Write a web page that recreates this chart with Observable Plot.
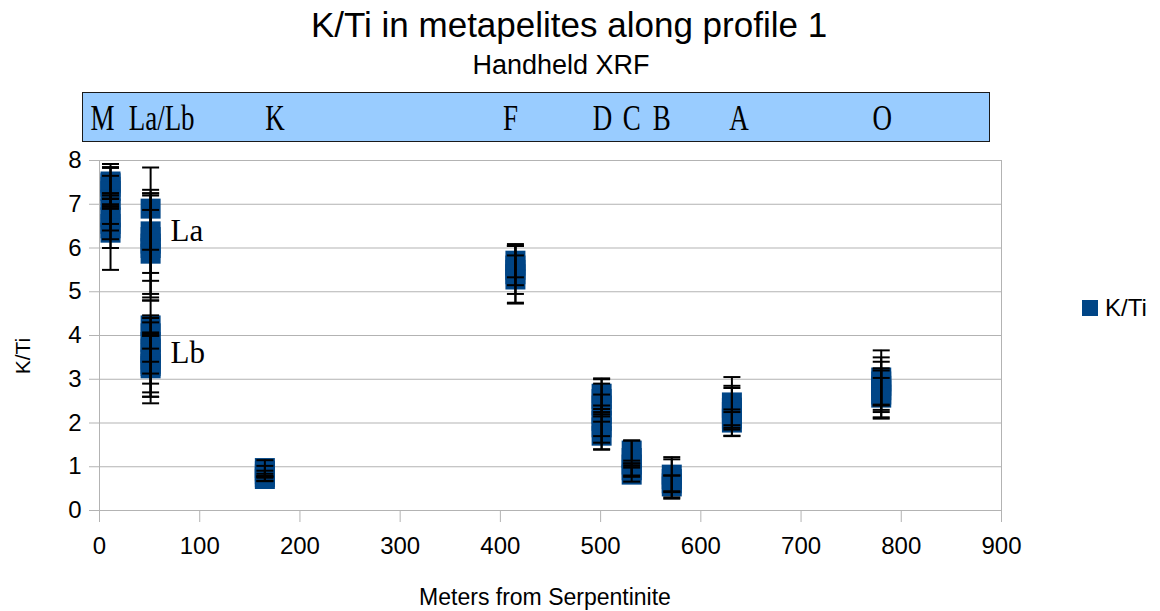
<!DOCTYPE html>
<html>
<head>
<meta charset="utf-8">
<script src="https://cdn.jsdelivr.net/npm/d3@7"></script>
<script src="https://cdn.jsdelivr.net/npm/@observablehq/plot@0.6"></script>
<style>
  html, body { margin: 0; padding: 0; background: #fff; }
  #wrap { position: relative; width: 1160px; height: 611px; font-family: "Liberation Sans", Arial, sans-serif; color: #000; overflow: hidden; }
  #wrap svg { position: absolute; left: 0; top: 0; }
  .abs { position: absolute; white-space: nowrap; line-height: 1; }
</style>
</head>
<body>
<div id="wrap">
  <div class="abs" id="banner" style="left:82px;top:92px;width:908px;height:50px;background:#99ccff;border:1px solid #1a1a1a;box-sizing:border-box;"></div>
  <div class="abs" id="title" style="left:569px;top:7px;transform:translateX(-50%);font-size:35px;"></div>
  <div class="abs" id="subtitle" style="left:561px;top:52px;transform:translateX(-50%);font-size:27px;"></div>
  <div class="abs" id="ylabel" style="left:22px;top:356px;transform:translate(-50%,-50%) rotate(-90deg);font-size:21px;"></div>
  <div class="abs" id="xlabel" style="left:545px;top:586px;transform:translateX(-50%);font-size:23px;"></div>
  <div class="abs" id="legend" style="left:1082px;top:296px;font-size:24px;display:flex;align-items:center;">
    <span style="display:inline-block;width:16px;height:16px;background:#004586;margin-right:7px;"></span><span id="legendText"></span>
  </div>
</div>
<script>
// ---- texts ----
const titleText = "K/Ti in metapelites along profile 1";
const subtitleText = "Handheld XRF";
const xLabelText = "Meters from Serpentinite";
const yLabelText = "K/Ti";
const seriesName = "K/Ti";

// ---- axis ticks ----
const xTicks = [0, 100, 200, 300, 400, 500, 600, 700, 800, 900];
const yTicks = [0, 1, 2, 3, 4, 5, 6, 7, 8];

// ---- sample sites (metres from serpentinite) ----
const siteNames = ["M", "La", "Lb", "K", "F", "D", "C", "B", "A", "O"];
const siteX     = [11, 51, 51, 165, 415, 501, 531, 571, 631, 780];

// ---- K/Ti values and error-bar half widths, per site ----
const valuesM  = [7.52, 7.48, 7.40, 7.30, 7.10, 6.90, 6.70, 6.55, 6.45, 6.35];
const errM     = [0.40, 0.35, 0.45, 0.35, 0.15, 0.35, 0.30, 0.35, 0.45, 0.85];
const valuesLa = [6.90, 6.38, 6.25, 6.10, 6.00, 5.87];
const errLa    = [0.94, 0.95, 1.00, 1.15, 1.20, 1.00];
const valuesLb = [4.23, 4.05, 3.85, 3.70, 3.60, 3.45, 3.35, 3.30, 3.25];
const errLb    = [0.23, 0.35, 0.45, 1.10, 0.47, 0.55, 0.65, 0.70, 0.80];
const valuesK  = [0.97, 0.90, 0.83, 0.76, 0.72];
const errK     = [0.18, 0.12, 0.08, 0.08, 0.05];
const valuesF  = [5.71, 5.60, 5.50, 5.40, 5.28];
const errF     = [0.38, 0.45, 0.55, 0.65, 0.55];
const valuesD  = [2.67, 2.55, 2.40, 2.20, 2.05, 1.90, 1.71];
const errD     = [0.35, 0.35, 0.25, 0.80, 0.35, 0.35, 0.32];
const valuesC  = [1.37, 1.20, 1.05, 0.92, 0.82];
const errC     = [0.23, 0.40, 0.03, 0.15, 0.16];
const valuesB  = [0.82, 0.72, 0.62, 0.55];
const errB     = [0.40, 0.45, 0.18, 0.25];
const valuesA  = [2.47, 2.35, 2.25, 2.10, 2.01];
const errA     = [0.58, 0.50, 0.55, 0.15, 0.30];
const valuesO  = [3.04, 2.95, 2.85, 2.75, 2.65, 2.58];
const errO     = [0.62, 0.55, 0.55, 0.50, 0.55, 0.45];

// ---- banner labels (top box) and their x along the profile ----
const bannerLabels = ["M", "La/Lb", "K", "F", "D", "C", "B", "A", "O"];
const bannerX      = [3, 62, 175, 410, 502, 531, 561, 638, 781];

// ---- in-plot annotations ----
const annoLabels = ["La", "Lb"];
const annoX      = [51, 51];
const annoY      = [6.38, 3.59];

// ---- build table ----
const allValues = [valuesM, valuesLa, valuesLb, valuesK, valuesF, valuesD, valuesC, valuesB, valuesA, valuesO];
const allErrs   = [errM, errLa, errLb, errK, errF, errD, errC, errB, errA, errO];
const points = [];
allValues.forEach((vals, i) => {
  vals.forEach((v, j) => {
    const e = allErrs[i][j];
    points.push({site: siteNames[i], x: siteX[i], y: v, lo: v - e, hi: v + e});
  });
});
const caps = points.flatMap(d => [{x: d.x, y: d.lo}, {x: d.x, y: d.hi}]);
const banner = bannerLabels.map((t, i) => ({t, x: bannerX[i]}));
const anno = annoLabels.map((t, i) => ({t, x: annoX[i], y: annoY[i]}));

// custom symbols
const squareSym = {draw(ctx, size) { const r = Math.sqrt(size / Math.PI); ctx.rect(-r, -r, 2 * r, 2 * r); }};
const capSym = {draw(ctx, size) { const r = Math.sqrt(size / Math.PI); ctx.moveTo(-r, 0); ctx.lineTo(r, 0); }};

const grid = "#b3b3b3";
const serif = "'Liberation Serif', 'Times New Roman', serif";
const chart = Plot.plot({
  width: 1160,
  height: 611,
  marginTop: 160,
  marginBottom: 101,
  marginLeft: 99,
  marginRight: 159,
  style: {background: "transparent", fontFamily: "'Liberation Sans', Arial, sans-serif", overflow: "visible"},
  x: {domain: [0, 900]},
  y: {domain: [0, 8]},
  marks: [
    Plot.gridY(yTicks, {stroke: grid, strokeOpacity: 1}),
    Plot.frame({stroke: grid}),
    Plot.axisY(yTicks, {tickSize: 10, tickPadding: 8, fontSize: 24, stroke: grid, fill: "#000", label: null}),
    Plot.axisX(xTicks, {tickSize: 12, tickPadding: 14, fontSize: 24, stroke: grid, fill: "#000", label: null}),
    Plot.dot(points, {x: "x", y: "y", r: 10, symbol: squareSym, fill: "#004586", stroke: "none"}),
    Plot.ruleX(points, {x: "x", y1: "lo", y2: "hi", stroke: "#000", strokeWidth: 2}),
    Plot.dot(caps, {x: "x", y: "y", r: 8.5, symbol: capSym, fill: "none", stroke: "#000", strokeWidth: 2}),
    Plot.text(banner, {x: "x", text: "t", frameAnchor: "top", lineAnchor: "middle", dy: -42, fontSize: 27, fontFamily: serif, fill: "#000", className: "banner-labels"}),
    Plot.text(anno, {x: "x", y: "y", text: "t", dx: 20, textAnchor: "start", lineAnchor: "middle", fontSize: 31, fontFamily: serif, fill: "#000"})
  ]
});
// banner lettering is tall and narrow in the original: stretch it vertically
d3.select(chart).selectAll("g.banner-labels text").each(function () {
  const t = this.getAttribute("transform") || "";
  this.setAttribute("transform", t + " scale(1,1.3)");
});
const wrap = document.getElementById("wrap");
wrap.insertBefore(chart, wrap.children[1]);
document.getElementById("title").textContent = titleText;
document.getElementById("subtitle").textContent = subtitleText;
document.getElementById("xlabel").textContent = xLabelText;
document.getElementById("ylabel").textContent = yLabelText;
document.getElementById("legendText").textContent = seriesName;
</script>
</body>
</html>
